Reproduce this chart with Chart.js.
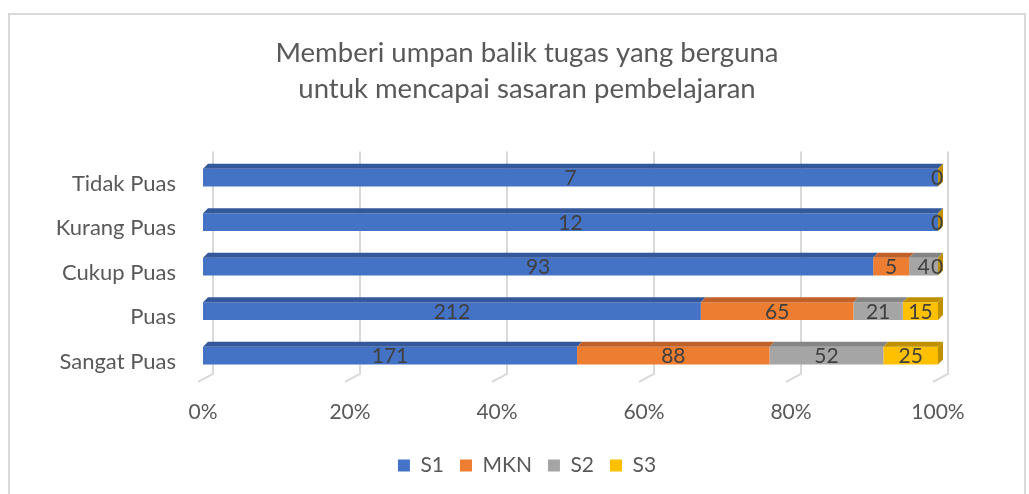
<!DOCTYPE html>
<html>
<head>
<meta charset="utf-8">
<script src="https://cdn.jsdelivr.net/npm/chart.js@4.4.1/dist/chart.umd.min.js"></script>
<style>
  html, body { margin: 0; padding: 0; background: #fff; }
  body { width: 1029px; height: 494px; position: relative; overflow: hidden; }
  #bingkai {
    position: absolute; left: 8px; top: 13px; width: 1018px; height: 490px;
    border: 2px solid #d9d9d9; box-sizing: border-box;
  }
  #wadah { position: absolute; left: 10px; top: 15px; width: 1034px; height: 479px; }
</style>
</head>
<body>
<div id="bingkai"></div>
<div id="wadah"><canvas id="grafikPuas" width="1034" height="479"></canvas></div>
<script>
// Data kepuasan
const kategori = ['Tidak Puas', 'Kurang Puas', 'Cukup Puas', 'Puas', 'Sangat Puas'];
const nilaiS1 = [7, 12, 93, 212, 171];
const nilaiMKN = [0, 0, 5, 65, 88];
const nilaiS2 = [null, null, 4, 21, 52];
const nilaiS3 = [null, null, 0, 15, 25];
const labelTick = ['0%', '20%', '40%', '60%', '80%', '100%'];

const seri = [
    { nama: 'S1', nilai: nilaiS1, warna: '#4472C4', atas: '#34599B' },
    { nama: 'MKN', nilai: nilaiMKN, warna: '#ED7D31', atas: '#C0612A' },
    { nama: 'S2', nilai: nilaiS2, warna: '#A5A5A5', atas: '#858585' },
    { nama: 'S3', nilai: nilaiS3, warna: '#FFC000', atas: '#BF9000' }
];

// total per kategori untuk 100% stacked
const total = kategori.map((_, i) => seri.reduce((s, d) => s + (d.nilai[i] || 0), 0));

const dalam = 5; // kedalaman efek 3D
const huruf = 'Lato, "Open Sans", sans-serif';

// gridline di dinding belakang + garis diagonal di lantai
const gridBelakang = {
    id: 'gridBelakang',
    beforeDatasetsDraw(chart) {
        const { ctx, chartArea, scales } = chart;
        ctx.save();
        ctx.strokeStyle = '#d9d9d9';
        ctx.lineWidth = 2;
        for (let i = 0; i <= 5; i++) {
            const x = scales.x.getPixelForValue(i / 5);
            ctx.beginPath();
            ctx.moveTo(x + 10, chartArea.top - 4);
            ctx.lineTo(x + 10, chartArea.bottom - 4);
            ctx.lineTo(x - 5, chartArea.bottom + 4);
            ctx.stroke();
        }
        ctx.restore();
    }
};

// sisi atas dan sisi kanan batang + label nilai
const efek3D = {
    id: 'efek3D',
    afterDatasetsDraw(chart) {
        const { ctx } = chart;
        ctx.save();
        chart.data.datasets.forEach((ds, di) => {
            const meta = chart.getDatasetMeta(di);
            meta.data.forEach((bar, i) => {
                if (ds.data[i] === null) return;
                const atas = bar.y - bar.height / 2;
                ctx.fillStyle = seri[di].atas;
                ctx.beginPath();
                ctx.moveTo(bar.base, atas);
                ctx.lineTo(bar.base + dalam, atas - dalam);
                ctx.lineTo(bar.x + dalam, atas - dalam);
                ctx.lineTo(bar.x, atas);
                ctx.closePath();
                ctx.fill();
            });
        });
        // sisi kanan (ujung tumpukan)
        chart.getDatasetMeta(3).data.forEach(bar => {
            const x = chart.scales.x.getPixelForValue(1);
            const atas = bar.y - bar.height / 2;
            const bawah = bar.y + bar.height / 2;
            ctx.fillStyle = seri[3].atas;
            ctx.beginPath();
            ctx.moveTo(x, atas);
            ctx.lineTo(x + dalam, atas - dalam);
            ctx.lineTo(x + dalam, bawah - dalam);
            ctx.lineTo(x, bawah);
            ctx.closePath();
            ctx.fill();
        });
        // label nilai
        ctx.fillStyle = '#404040';
        ctx.font = '21px ' + huruf;
        ctx.textAlign = 'center';
        ctx.textBaseline = 'middle';
        chart.data.datasets.forEach((ds, di) => {
            const meta = chart.getDatasetMeta(di);
            meta.data.forEach((bar, i) => {
                const v = seri[di].nilai[i];
                if (v === null) return;
                let x = (bar.x + bar.base) / 2;
                if (v === 0) x -= 1;
                ctx.fillText(String(v), x, bar.y + 1);
            });
        });
        ctx.restore();
    }
};

const ctx = document.getElementById('grafikPuas').getContext('2d');
const grafik = new Chart(ctx, {
    type: 'bar',
    data: {
        labels: kategori,
        datasets: seri.map(d => ({
            label: d.nama,
            data: d.nilai.map((v, i) => v === null ? null : v / total[i]),
            backgroundColor: d.warna,
            borderWidth: 0,
            barPercentage: 0.4,
            categoryPercentage: 1
        }))
    },
    plugins: [gridBelakang, efek3D],
    options: {
        indexAxis: 'y',
        responsive: false,
        animation: false,
        devicePixelRatio: 1,
        layout: { padding: { left: 0, right: 0, top: 0, bottom: 8 } },
        plugins: {
            title: {
                display: true,
                text: ['Memberi umpan balik tugas yang berguna', 'untuk mencapai sasaran pembelajaran'],
                color: '#595959',
                font: { family: huruf, size: 27.5, weight: 'normal', lineHeight: 1.3 },
                padding: { top: 20, bottom: 49 }
            },
            legend: {
                position: 'bottom',
                labels: {
                    color: '#595959',
                    font: { family: huruf, size: 21 },
                    boxWidth: 12,
                    boxHeight: 12,
                    padding: 16
                }
            },
            tooltip: { enabled: false }
        },
        scales: {
            x: {
                stacked: true,
                min: 0,
                max: 1,
                grid: { display: false },
                border: { display: false },
                afterFit: s => { s.paddingRight = 106; },
                ticks: {
                    stepSize: 0.2,
                    padding: 14,
                    color: '#595959',
                    font: { family: huruf, size: 21 },
                    callback: (v, i) => labelTick[i]
                }
            },
            y: {
                stacked: true,
                grid: { display: false },
                border: { display: false },
                afterFit: s => { s.width = 193; },
                ticks: {
                    padding: 19,
                    labelOffset: 6,
                    color: '#595959',
                    font: { family: huruf, size: 22 }
                }
            }
        }
    }
});
</script>
</body>
</html>
